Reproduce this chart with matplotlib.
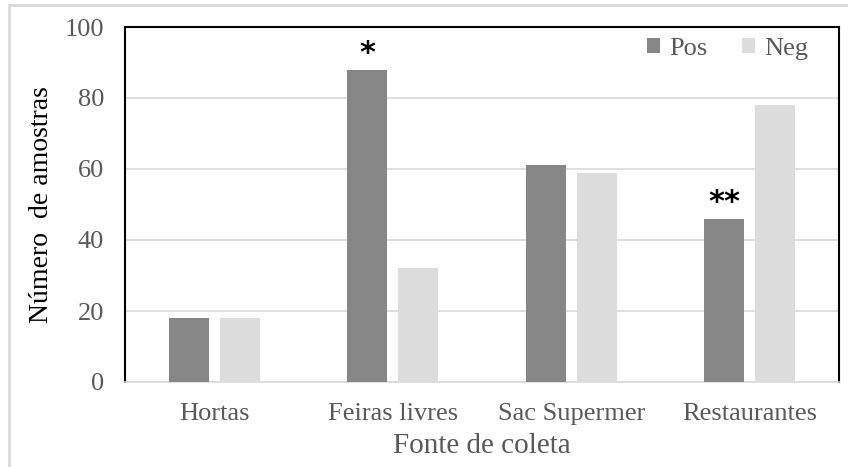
import matplotlib
matplotlib.use("Agg")
import matplotlib.pyplot as plt
import numpy as np
from matplotlib.patches import Rectangle

categorias = ["Hortas", "Feiras livres", "Sac Supermer", "Restaurantes"]
pos = [18, 88, 61, 46]
neg = [18, 32, 59, 78]
marcas = ["", "*", "", "**"]  # significância sobre as barras Pos

plt.rcParams["font.family"] = ["Liberation Serif", "DejaVu Serif"]
cor_texto = "#595959"

fig = plt.figure(figsize=(8.48, 4.67), dpi=100)
ax = fig.add_axes([125 / 848, 1 - 382 / 467, 714 / 848, 355 / 467])

x = np.arange(len(categorias))
w = 0.225
off = 0.143
ax.bar(x - off, pos, w, color="#878787", label="Pos", zorder=3)
ax.bar(x + off, neg, w, color="#dcdcdc", label="Neg", zorder=3)

for xi, v, m in zip(x, pos, marcas):
    if m:
        ax.text(xi - off, v + 0.5, m, ha="center", va="bottom",
                fontsize=22, fontweight="bold", color="black",
                family="DejaVu Sans")

ax.set_xlim(-0.5, len(categorias) - 0.5)
ax.set_ylim(0, 100)
ax.set_yticks(range(0, 101, 20))
ax.set_xticks(x)
ax.set_xticklabels(categorias)
ax.tick_params(axis="both", length=0, labelsize=19, colors=cor_texto)
ax.tick_params(axis="y", pad=15)
ax.tick_params(axis="x", pad=15)
ax.grid(axis="y", color="#d9d9d9", linewidth=1.2, zorder=0)

for s in ["left", "top", "right"]:
    ax.spines[s].set_color("black")
    ax.spines[s].set_linewidth(1.5)
ax.spines["bottom"].set_color("#d9d9d9")
ax.spines["bottom"].set_linewidth(1.2)

ax.set_ylabel("Número  de amostras", fontsize=20, color="black", labelpad=8)
ax.set_xlabel("Fonte de coleta", fontsize=21, color=cor_texto, labelpad=6)

leg = ax.legend(loc="upper right", ncol=2, frameon=False, fontsize=19,
                handlelength=0.5, handleheight=0.5, handletextpad=0.35,
                columnspacing=1.3, borderaxespad=0.0,
                bbox_to_anchor=(0.972, 1.0))
for t in leg.get_texts():
    t.set_color(cor_texto)

# moldura externa
fig.patches.append(Rectangle((9 / 848, -0.1), 1.2, 1 - 5 / 467 + 0.1,
                             transform=fig.transFigure, fill=False,
                             edgecolor="#d9d9d9", linewidth=2))

fig.savefig("out.png", dpi=100)
